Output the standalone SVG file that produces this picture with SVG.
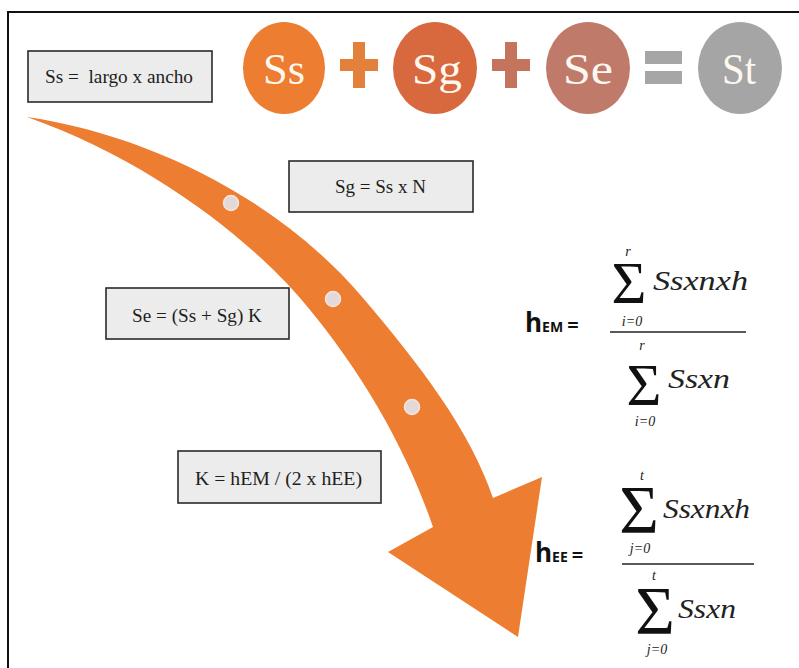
<svg xmlns="http://www.w3.org/2000/svg" width="799" height="668" viewBox="0 0 799 668">
<style>
.box{fill:#ececec;stroke:#2a2a2a;stroke-width:1.6}
.bt{font-family:"Liberation Serif","Times New Roman",serif;font-size:19px;fill:#1e1e1e;white-space:pre}
.ct{font-family:"Liberation Serif","Times New Roman",serif;font-size:44px;fill:#fff8f0;text-anchor:middle}
.h{font-family:"Open Sans","Noto Sans",sans-serif;font-weight:bold;fill:#111}
.sig{font-family:"Liberation Serif","Times New Roman",serif;fill:#111;text-anchor:middle}
.it{font-family:"Liberation Serif","Times New Roman",serif;font-style:italic;fill:#222}
.lim{font-style:italic;font-size:14px;fill:#222}
.dot{fill:#e3d9d8;stroke:#f3e6e2;stroke-width:1.5}
</style>
<rect width="799" height="668" fill="#fff"/>
<path d="M8,668 V12 H799" fill="none" stroke="#111" stroke-width="2"/>

<g id="arrow">
<path d="M27,117 C150,135 280,200 363,298 C420,365 470,430 493,498 L542,477 L518,637 L388,552 L433,527 C410,460 370,380 300,298 C250,240 150,160 27,117 Z" fill="#ed7d31"/>
<circle class="dot" cx="231" cy="203" r="7.5"/>
<circle class="dot" cx="333" cy="299" r="7.5"/>
<circle class="dot" cx="412" cy="407" r="7.5"/>
</g>

<g id="circle-ss">
<ellipse cx="284" cy="68" rx="41" ry="46" fill="#ed7d31"/>
<text class="ct" x="284" y="84" textLength="42" lengthAdjust="spacingAndGlyphs">Ss</text>
</g>
<g id="plus1" fill="#e2803c">
<rect x="353" y="42" width="12" height="46"/>
<rect x="340" y="59" width="38" height="12"/>
</g>
<g id="circle-sg">
<ellipse cx="435" cy="68" rx="42" ry="46" fill="#d8693f"/>
<text class="ct" x="437" y="84" textLength="50" lengthAdjust="spacingAndGlyphs">Sg</text>
</g>
<g id="plus2" fill="#c4735c">
<rect x="505" y="42" width="12" height="46"/>
<rect x="492" y="59" width="38" height="12"/>
</g>
<g id="circle-se">
<ellipse cx="588" cy="68" rx="42" ry="46" fill="#c07a6a"/>
<text class="ct" x="588" y="84" textLength="50" lengthAdjust="spacingAndGlyphs">Se</text>
</g>
<g id="equals" fill="#a6a6a6">
<rect x="645" y="51" width="37" height="13"/>
<rect x="645" y="71" width="37" height="13"/>
</g>
<g id="circle-st">
<ellipse cx="740" cy="68" rx="42" ry="46" fill="#a5a5a5"/>
<text class="ct" x="739" y="84" textLength="34" lengthAdjust="spacingAndGlyphs">St</text>
</g>

<g id="box-ss">
<rect class="box" x="28" y="51" width="184" height="51"/>
<text class="bt" x="45" y="83" textLength="148" lengthAdjust="spacingAndGlyphs">Ss =  largo x ancho</text>
</g>
<g id="box-sg">
<rect class="box" x="289" y="161" width="184" height="51"/>
<text class="bt" x="335" y="193" textLength="91" lengthAdjust="spacingAndGlyphs">Sg = Ss x N</text>
</g>
<g id="box-se">
<rect class="box" x="106" y="288" width="183" height="51"/>
<text class="bt" x="132" y="322" textLength="130" lengthAdjust="spacingAndGlyphs">Se = (Ss + Sg) K</text>
</g>
<g id="box-k">
<rect class="box" x="178" y="451" width="203" height="52"/>
<text class="bt" x="195" y="485" textLength="167" lengthAdjust="spacingAndGlyphs">K = hEM / (2 x hEE)</text>
</g>

<g id="formula-hem">
<text class="h" x="525" y="332"><tspan font-size="26">h</tspan><tspan font-size="14">EM</tspan><tspan font-size="20" dx="4">=</tspan></text>
<text class="sig"><tspan class="lim" x="628" y="256">r</tspan><tspan x="629" y="303" font-size="60">Σ</tspan><tspan class="lim" x="632" y="326" font-style="normal"><tspan font-style="italic">i</tspan>=0</tspan></text>
<text class="it" x="653" y="290" font-size="28" textLength="95" lengthAdjust="spacingAndGlyphs">Ssxnxh</text>
<line x1="610" y1="332" x2="746" y2="332" stroke="#222" stroke-width="1.6"/>
<text class="sig"><tspan class="lim" x="642" y="350">r</tspan><tspan x="644" y="405" font-size="60">Σ</tspan><tspan class="lim" x="645" y="426" font-style="normal"><tspan font-style="italic">i</tspan>=0</tspan></text>
<text class="it" x="668" y="388" font-size="28" textLength="62" lengthAdjust="spacingAndGlyphs">Ssxn</text>
</g>

<g id="formula-hee">
<text class="h" x="535" y="562"><tspan font-size="26">h</tspan><tspan font-size="14">EE</tspan><tspan font-size="20" dx="4">=</tspan></text>
<text class="sig"><tspan class="lim" x="642" y="480">t</tspan><tspan x="639" y="532" font-size="68">Σ</tspan><tspan class="lim" x="640" y="553" font-style="normal"><tspan font-style="italic">j</tspan>=0</tspan></text>
<text class="it" x="663" y="518" font-size="28" textLength="87" lengthAdjust="spacingAndGlyphs">Ssxnxh</text>
<line x1="622" y1="564" x2="754" y2="564" stroke="#222" stroke-width="1.6"/>
<text class="sig"><tspan class="lim" x="654" y="580">t</tspan><tspan x="655" y="633" font-size="68">Σ</tspan><tspan class="lim" x="657" y="654" font-style="normal"><tspan font-style="italic">j</tspan>=0</tspan></text>
<text class="it" x="678" y="618" font-size="28" textLength="58" lengthAdjust="spacingAndGlyphs">Ssxn</text>
</g>
</svg>
